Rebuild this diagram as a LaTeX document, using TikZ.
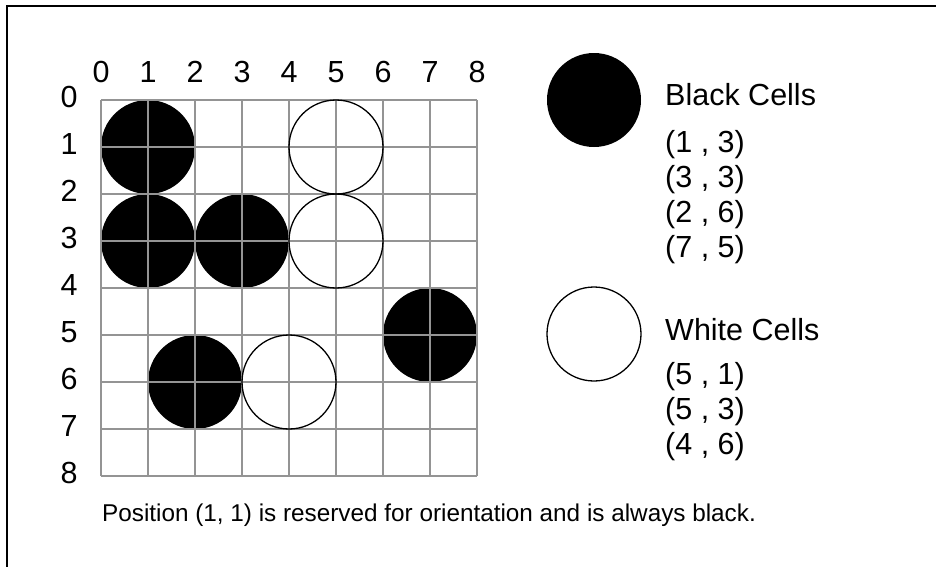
\documentclass[tikz,border=0pt]{standalone}
\usepackage{fontspec}
\setmainfont{Liberation Sans}
\usepackage{tikz}

\begin{document}
\begin{tikzpicture}[x=1pt,y=-1pt,
  lab/.style={font=\fontsize{30.5}{33}\selectfont,inner sep=0pt},
  item/.style={lab,anchor=west},
  note/.style={font=\fontsize{24.3}{27}\selectfont,inner sep=0pt,anchor=west},
  blk/.style={fill=black},
  wht/.style={draw=black,line width=1.3pt},
  gridline/.style={draw=black!42,line width=1.6pt}]
  \clip (0,0) rectangle (936,566);
  \useasboundingbox (0,0) rectangle (936,566);
  \draw[line width=2pt] (7,6) rectangle (950,580);
  % board: cell 47, corner at (101,100)
  \foreach \c/\r in {1/1,1/3,3/3,2/6,7/5}
    \fill[blk] (101+47*\c,100+47*\r) circle (47);
  \foreach \i in {0,...,8} {
    \draw[gridline] (101+47*\i,100) -- (101+47*\i,476);
    \draw[gridline] (101,100+47*\i) -- (477,100+47*\i);
    \node[lab] (col\i) at (101+47*\i,72) {\i};
    \node[lab] (row\i) at (69,97+47*\i) {\i};
  }
  \foreach \c/\r in {5/1,5/3,4/6}
    \draw[wht] (101+47*\c,100+47*\r) circle (47);
  % legend
  \fill[blk] (594,100) circle (47);
  \node[item] (blab) at (665,95) {Black Cells};
  \node[item] (b1) at (665,145) {(1 , 3)};
  \node[item] (b2) at (665,180) {(3 , 3)};
  \node[item] (b3) at (665,215) {(2 , 6)};
  \node[item] (b4) at (665,250) {(7 , 5)};
  \draw[wht] (594,334) circle (47);
  \node[item] (wlab) at (665,330) {White Cells};
  \node[item] (w1) at (665,377) {(5 , 1)};
  \node[item] (w2) at (665,412) {(5 , 3)};
  \node[item] (w3) at (665,447) {(4 , 6)};
  \node[note] (foot) at (102,515) {Position (1, 1) is reserved for orientation and is always black.};
\end{tikzpicture}
\end{document}
